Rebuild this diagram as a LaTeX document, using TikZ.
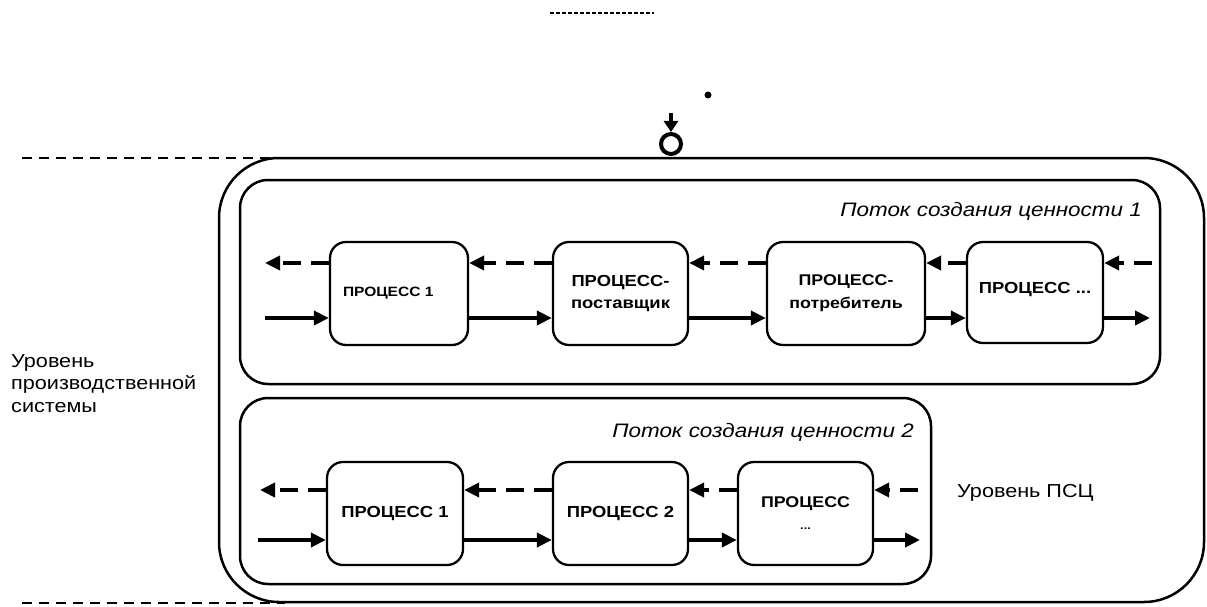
\documentclass[tikz,border=0pt]{standalone}
\usepackage{fontspec}
\setmainfont{Liberation Sans}[FakeStretch=1.15]
\usetikzlibrary{arrows.meta}
\begin{document}
\begin{tikzpicture}[x=1pt,y=-1pt,
  proc/.style={draw, line width=2.3pt, rounded corners=16pt, minimum width=136pt,
    minimum height=103pt, inner sep=0pt, align=center,
    font=\bfseries\fontsize{16}{22}\selectfont},
  fl/.style={line width=4.5pt, -{Triangle[length=15pt,width=14pt]}},
  bk/.style={fl, dash pattern=on 18pt off 10pt},
  cont/.style={line width=2.5pt},
  lvl/.style={dash pattern=on 10pt off 7pt, line width=2.2pt},
  lbl/.style={inner sep=0pt, font=\fontsize{18.8}{22.5}\selectfont},
  ital/.style={inner sep=0pt, font=\itshape\fontsize{19.5}{22}\selectfont}]
\useasboundingbox (0,0) rectangle (1207,607);

% containers
\draw[cont, rounded corners=60pt] (219,158) rectangle (1204,602);
\draw[cont, rounded corners=28pt] (240,180) rectangle (1160,384);
\draw[cont, rounded corners=28pt] (240,398) rectangle (931,584);

% level lines
\coordinate (l1a) at (22,158); \coordinate (l1b) at (280,158);
\coordinate (l2a) at (22,603); \coordinate (l2b) at (285,603);
\draw[lvl] (l1a) -- (l1b);
\draw[lvl] (l2a) -- (l2b);

% top marks
\coordinate (ta) at (550,13); \coordinate (tb) at (654,13);
\draw[line width=2pt, dash pattern=on 4pt off 2pt] (ta) -- (tb);
\node[circle, fill, inner sep=0pt, minimum size=7pt] (dot) at (708,95) {};
\node[circle, draw, line width=4pt, inner sep=0pt, minimum size=20pt] (c) at (671,144) {};
\coordinate (ct) at (671,113);
\draw[line width=3.5pt, -{Triangle[length=11pt,width=14pt]}] (ct) -- (c.north);

% row coordinates
\coordinate (d1) at (0,263); \coordinate (s1) at (0,318);
\coordinate (d2) at (0,490); \coordinate (s2) at (0,540);

% row 1
\node[proc, minimum width=138pt, font=\bfseries\fontsize{13.5}{15}\selectfont] (a1) at (399,293.5) {\makebox[112pt][l]{ПРОЦЕСС 1}};
\node[proc, minimum width=135pt] (a2) at (620.5,293.5) {ПРОЦЕСС-\\поставщик};
\node[proc, minimum width=158pt, font=\bfseries\fontsize{15.5}{23}\selectfont] (a3) at (846,293.5) {ПРОЦЕСС-\\потребитель};
\node[proc, minimum height=101pt] (a4) at (1035,292.5) {\raisebox{9pt}{ПРОЦЕСС ...}};

\coordinate (a0d) at (265,263); \coordinate (a0s) at (265,318);
\coordinate (a5d) at (1152,263); \coordinate (a5s) at (1150,318);
\draw[bk] (a1.west |- d1) -- (a0d);
\draw[fl] (a0s) -- (a1.west |- s1);
\draw[bk] (a2.west |- d1) -- (a1.east |- d1);
\draw[fl] (a1.east |- s1) -- (a2.west |- s1);
\draw[bk] (a3.west |- d1) -- (a2.east |- d1);
\draw[fl] (a2.east |- s1) -- (a3.west |- s1);
\draw[bk] (a4.west |- d1) -- (a3.east |- d1);
\draw[fl] (a3.east |- s1) -- (a4.west |- s1);
\draw[bk] (a5d) -- (a4.east |- d1);
\draw[fl] (a4.east |- s1) -- (a5s);

% row 2
\node[proc] (b1) at (395,513.5) {ПРОЦЕСС 1};
\node[proc, minimum width=135pt] (b2) at (620.5,513.5) {ПРОЦЕСС 2};
\node[proc, minimum width=135pt, font=\bfseries\fontsize{15.5}{21}\selectfont] (b3) at (805.5,513.5) {ПРОЦЕСС\\[1pt]{\fontsize{11}{11}\selectfont ...}};

\coordinate (b0d) at (260,490); \coordinate (b0s) at (258,540);
\coordinate (b4d) at (918,490); \coordinate (b4s) at (920,540);
\draw[bk] (b1.west |- d2) -- (b0d);
\draw[fl] (b0s) -- (b1.west |- s2);
\draw[bk] (b2.west |- d2) -- (b1.east |- d2);
\draw[fl] (b1.east |- s2) -- (b2.west |- s2);
\draw[bk] (b3.west |- d2) -- (b2.east |- d2);
\draw[fl] (b2.east |- s2) -- (b3.west |- s2);
\draw[bk] (b4d) -- (b3.east |- d2);
\draw[fl] (b3.east |- s2) -- (b4s);

% labels
\node[ital, anchor=east] (t1) at (1142,211) {Поток создания ценности 1};
\node[ital, anchor=east] (t2) at (914,432) {Поток создания ценности 2};
\node[lbl, anchor=west] (t3) at (957,493) {Уровень ПСЦ};
\node[lbl, anchor=north west, align=left] (t4) at (11,354) {Уровень\\производственной\\системы};
\end{tikzpicture}
\end{document}
